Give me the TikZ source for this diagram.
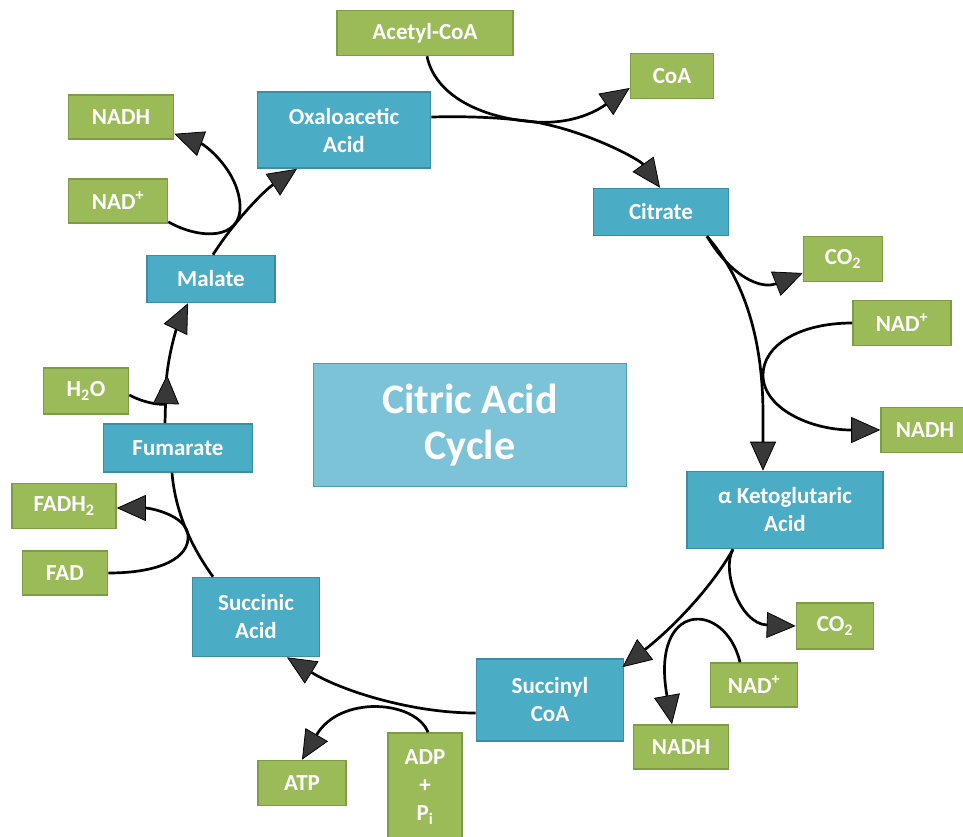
\documentclass[tikz,border=0pt]{standalone}
\usepackage{fontspec}
\setmainfont{Carlito}
\usetikzlibrary{arrows.meta,calc}
\definecolor{gfill}{HTML}{9BBB59}
\definecolor{gdraw}{HTML}{7E9C46}
\definecolor{bfill}{HTML}{4BACC6}
\definecolor{bdraw}{HTML}{3B8CA4}
\definecolor{cfill}{HTML}{7CC3D7}
\definecolor{cdraw}{HTML}{4D9DB3}
\definecolor{arrowgray}{HTML}{383838}
\tikzset{
  gbox/.style={draw=gdraw, fill=gfill, line width=1.6pt, text=white, inner sep=0pt,
    align=center, font=\bfseries\fontsize{23}{28}\selectfont},
  bbox/.style={draw=bdraw, fill=bfill, line width=1.6pt, text=white, inner sep=0pt,
    align=center, font=\bfseries\fontsize{23}{28}\selectfont},
  cbox/.style={draw=cdraw, fill=cfill, line width=1.6pt, text=white, inner sep=0pt,
    align=center, font=\bfseries\fontsize{42}{46}\selectfont},
  flow/.style={draw=black, line width=2.7pt},
  arrowed/.style={-{Triangle[length=29pt,width=26pt,fill=arrowgray,line width=0.8pt]}},
}
\begin{document}
\begin{tikzpicture}[x=1pt,y=-1pt]
\useasboundingbox (0,0) rectangle (963,837);
% nodes
\node[gbox, minimum width=176pt, minimum height=45pt] (ace) at (425,33) {Acetyl-CoA};
\node[gbox, minimum width=83pt, minimum height=45pt] (coa) at (672,76) {CoA};
\node[bbox, minimum width=173pt, minimum height=76pt] (oxa) at (344,130) {Oxaloacetic\\Acid};
\node[gbox, minimum width=105pt, minimum height=44pt] (nadhL) at (121,117) {NADH};
\node[gbox, minimum width=99pt, minimum height=44pt] (nadL) at (118,201) {NAD\textsuperscript{+}};
\node[bbox, minimum width=128pt, minimum height=47pt] (mal) at (211,279) {Malate};
\node[gbox, minimum width=85pt, minimum height=46pt] (h2o) at (86,391) {H\textsubscript{2}O};
\node[bbox, minimum width=135pt, minimum height=47pt] (cit) at (661,212) {Citrate};
\node[gbox, minimum width=79pt, minimum height=45pt] (co2a) at (843,259) {CO\textsubscript{2}};
\node[gbox, minimum width=98pt, minimum height=45pt] (nadR) at (902,323) {NAD\textsuperscript{+}};
\node[gbox, minimum width=88pt, minimum height=45pt] (nadhR) at (925,430) {NADH};
\node[cbox, minimum width=313pt, minimum height=123pt] (cyc) at (470,425) {Citric Acid\\Cycle};
\node[bbox, minimum width=196pt, minimum height=77pt] (akg) at (785,510) {α Ketoglutaric\\Acid};
\node[gbox, minimum width=77pt, minimum height=46pt] (co2b) at (835,626) {CO\textsubscript{2}};
\node[gbox, minimum width=87pt, minimum height=44pt] (nadR2) at (754,685) {NAD\textsuperscript{+}};
\node[gbox, minimum width=95pt, minimum height=44pt] (nadhB) at (681,747) {NADH};
\node[bbox, minimum width=147pt, minimum height=82pt] (suc) at (550,700) {Succinyl\\CoA};
\node[bbox, minimum width=149pt, minimum height=48pt] (fum) at (178,448) {Fumarate};
\node[gbox, minimum width=104pt, minimum height=45pt] (fadh) at (64,506) {FADH\textsubscript{2}};
\node[gbox, minimum width=85pt, minimum height=44pt] (fad) at (65,573) {FAD};
\node[bbox, minimum width=127pt, minimum height=79pt] (succ) at (256,617) {Succinic\\Acid};
\node[gbox, minimum width=88pt, minimum height=45pt] (atp) at (302,783) {ATP};
\node[gbox, minimum width=74pt, minimum height=108pt] (adp) at (425,787) {ADP\\+\\P\textsubscript{i}};
% junctions
\coordinate (j1) at (535,122);
% connectors
\draw[flow,arrowed] ($(oxa.east)+(0,-13)$) .. controls (475,116) and (505,118) .. (j1)
   .. controls (590,132) and (640,160) .. ($(cit.north)+(-1,0)$);
\draw[flow,arrowed] ($(ace.south)+(2,0)$) .. controls (435,95) and (480,118) .. (j1)
   .. controls (580,125) and (605,105) .. ($(coa.west)+(0,12)$);
\draw[flow,arrowed] ($(cit.south)+(46,0)$) .. controls (745,280) and (763,340) .. (763,415)
   -- ($(akg.north)+(-22,0)$);
\draw[flow,arrowed] ($(cit.south)+(46,0)$) .. controls (730,275) and (760,290) .. ($(co2a.west)+(0,14)$);
\draw[flow,arrowed] (nadR.west) .. controls (800,323) and (763,345) .. (763,375)
   .. controls (763,408) and (810,430) .. (nadhR.west);
\draw[flow,arrowed] ($(akg.south)+(-52,0)$) .. controls (710,590) and (670,630) .. ($(suc.north east)+(-2,9)$);
\draw[flow,arrowed] ($(akg.south)+(-52,0)$) .. controls (721,570) and (740,624) .. (co2b.west);
\draw[flow,arrowed] ($(nadR2.north)+(-14,0)$) .. controls (725,600) and (650,600) .. ($(nadhB.north)+(-9,0)$);
\draw[flow,arrowed] ($(suc.west)+(0,13)$) .. controls (410,713) and (340,690) .. ($(succ.south)+(31,0)$);
\draw[flow,arrowed] ($(adp.north)+(3,0)$) .. controls (415,700) and (340,695) .. (atp.north);
\draw[flow] ($(succ.north)+(-43,0)$) .. controls (190,545) and (175,510) .. ($(fum.south)+(-6,0)$);
\draw[flow,arrowed] (fad.east) .. controls (160,573) and (190,558) .. (188,535)
   .. controls (186,515) and (150,508) .. ($(fadh.east)+(0,2)$);
\draw[flow,arrowed] ($(fum.north)+(-13,0)$) -- (166,385) .. controls (168,350) and (180,320) .. ($(mal.south)+(-23,0)$);
\draw[flow,arrowed] ($(h2o.east)+(0,4)$) .. controls (148,405) and (166,405) .. (167,375);
\draw[flow,arrowed] ($(mal.north)+(2,0)$) .. controls (235,220) and (265,190) .. ($(oxa.south)+(-47,0)$);
\draw[flow,arrowed] ($(nadL.south east)+(0,-2)$) .. controls (200,240) and (242,240) .. (240,205)
   .. controls (238,170) and (205,145) .. ($(nadhL.south east)+(0,-6)$);
\end{tikzpicture}
\end{document}
